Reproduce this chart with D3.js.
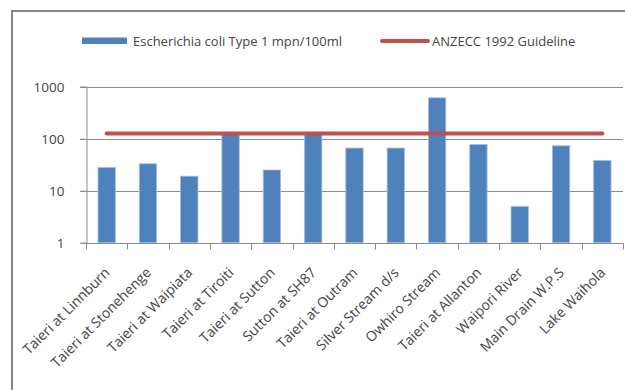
<!DOCTYPE html>
<html>
<head>
<meta charset="utf-8">
<script src="https://cdn.jsdelivr.net/npm/d3@7/dist/d3.min.js"></script>
<style>
  html, body { margin: 0; padding: 0; background: #fff; }
  svg { display: block; }
  text { font-family: "Open Sans", "Liberation Sans", sans-serif; fill: #454545; }
</style>
</head>
<body>
<svg id="chart" width="625" height="390"></svg>
<script>
// Sampling sites along the Taieri catchment
const sites = [
  "Taieri at Linnburn", "Taieri at Stonehenge", "Taieri at Waipiata",
  "Taieri at Tiroiti", "Taieri at Sutton", "Sutton at SH87",
  "Taieri at Outram", "Silver Stream d/s", "Owhiro Stream",
  "Taieri at Allanton", "Waipori River", "Main Drain W.P.S", "Lake Waihola"
];
// E. coli counts (mpn/100ml)
const ecoli = [28, 33, 19, 120, 25, 120, 66, 66, 610, 77, 5, 73, 38];
// ANZECC 1992 guideline value
const guideline = 126;
const yTicks = [1, 10, 100, 1000];
const seriesNames = ["Escherichia coli Type 1 mpn/100ml", "ANZECC 1992 Guideline"];

const svg = d3.select("#chart");

// outer chart frame
svg.append("rect")
  .attr("x", 12).attr("y", 11).attr("width", 700).attr("height", 500)
  .attr("fill", "none").attr("stroke", "#878787").attr("stroke-width", 2);

const plot = { left: 86, right: 623, top: 86.7, bottom: 242.7 };

const x = d3.scaleBand().domain(sites).range([plot.left, plot.right]).paddingInner(0.58).paddingOuter(0.29);
const xb = d3.scaleBand().domain(sites).range([plot.left, plot.right]);
const y = d3.scaleLog().domain([1, 1000]).range([plot.bottom, plot.top]);

// horizontal gridlines
svg.append("g").selectAll("line").data(yTicks.filter(d => d > 1)).join("line")
  .attr("x1", plot.left - 6).attr("x2", plot.right)
  .attr("y1", d => Math.round(y(d)) + 0.5).attr("y2", d => Math.round(y(d)) + 0.5)
  .attr("stroke", "#8c8c8c").attr("stroke-width", 1);

// y axis
const yAxis = svg.append("g")
  .attr("transform", `translate(${plot.left + 0.5},0)`)
  .call(d3.axisLeft(y).tickValues(yTicks).tickFormat(d3.format("d")).tickSize(6).tickPadding(16));
yAxis.select(".domain").attr("stroke", "#8c8c8c");
yAxis.selectAll(".tick line").attr("stroke", "#8c8c8c");
yAxis.selectAll(".tick text").style("font-size", "13.5px").attr("fill", "#454545")
  .style("font-family", "'Open Sans', sans-serif");

// bars
svg.append("g").selectAll("rect").data(ecoli).join("rect")
  .attr("x", (d, i) => x(sites[i]))
  .attr("width", x.bandwidth())
  .attr("y", d => y(d))
  .attr("height", d => y(1) - y(d))
  .attr("fill", "#4f81bd")
  .attr("stroke", "#a3bcdc").attr("stroke-width", 0.8);

// x axis with ticks at category boundaries
const xg = svg.append("g").attr("transform", `translate(0,${Math.round(plot.bottom) + 0.5})`);
xg.append("line").attr("x1", plot.left).attr("x2", plot.right + 0.5)
  .attr("stroke", "#8c8c8c");
const bounds = sites.map(s => xb(s)).concat([plot.right]);
xg.selectAll("line.tk").data(bounds).join("line").attr("class", "tk")
  .attr("x1", d => Math.round(d) + 0.5).attr("x2", d => Math.round(d) + 0.5)
  .attr("y1", 0).attr("y2", 6).attr("stroke", "#8c8c8c");
xg.selectAll("text").data(sites).join("text")
  .attr("text-anchor", "end")
  .attr("transform", d => `translate(${xb(d) + xb.bandwidth() / 2 + 4},30) rotate(-45)`)
  .style("font-size", "14px")
  .text(d => d);

// guideline across the categories
const gl = d3.line().x(d => d[0]).y(d => d[1]);
svg.append("path")
  .attr("d", gl([[xb(sites[0]) + xb.bandwidth() / 2, y(guideline)],
                 [xb(sites[sites.length - 1]) + xb.bandwidth() / 2, y(guideline)]]))
  .attr("stroke", "#c0504d").attr("stroke-width", 4).attr("stroke-linecap", "round").attr("fill", "none");

// legend
const lg = svg.append("g");
lg.append("rect").attr("x", 82).attr("y", 37.5).attr("width", 45).attr("height", 6.5).attr("fill", "#4f81bd");
lg.append("text").attr("x", 133).attr("y", 45.5).style("font-size", "13px").text(seriesNames[0]);
lg.append("line").attr("x1", 382).attr("x2", 428).attr("y1", 41).attr("y2", 41)
  .attr("stroke", "#c0504d").attr("stroke-width", 4).attr("stroke-linecap", "round");
lg.append("text").attr("x", 432).attr("y", 45.5).style("font-size", "13px").text(seriesNames[1]);
</script>
</body>
</html>
